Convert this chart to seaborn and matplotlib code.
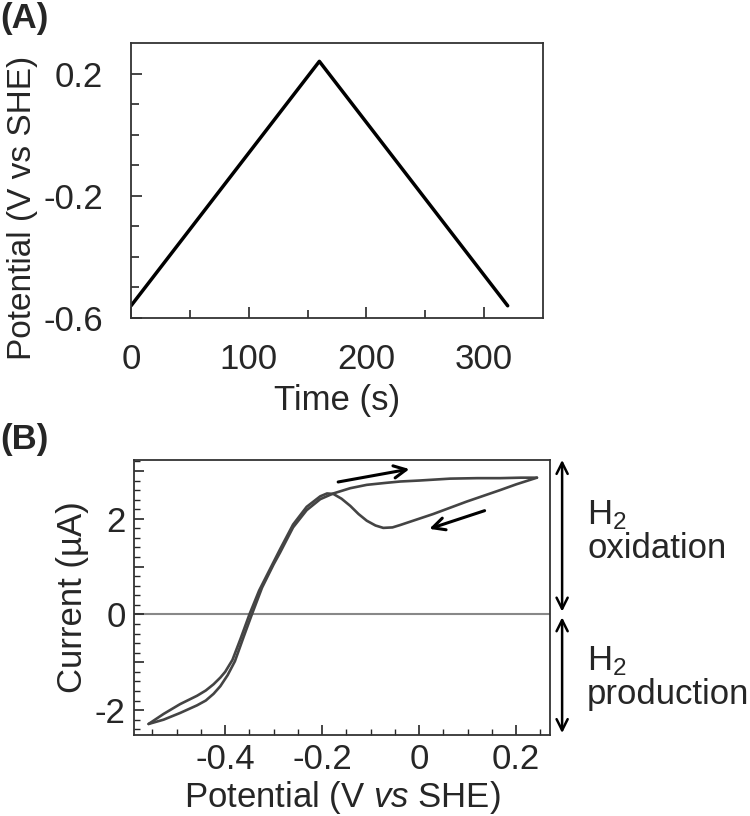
import numpy as np
import matplotlib
matplotlib.use("Agg")
import matplotlib.pyplot as plt
from matplotlib.ticker import MultipleLocator, FixedLocator
import seaborn as sns
from pandas import DataFrame

# panel A: potential waveform
t_s = [0, 160, 320]
e_wave = [-0.56, 0.24, -0.56]

# panel B: cyclic voltammogram, forward (anodic) and reverse scans
e_fwd = [-0.558, -0.527, -0.493, -0.458, -0.44, -0.424, -0.41, -0.395, -0.38,
         -0.362, -0.345, -0.324, -0.30, -0.287, -0.26, -0.232, -0.204, -0.177,
         -0.142, -0.108, -0.07, -0.039, 0.0, 0.064, 0.12, 0.167, 0.21, 0.243]
i_fwd = [-2.29, -2.20, -2.06, -1.90, -1.80, -1.66, -1.50, -1.27, -0.98,
         -0.47, 0.0, 0.56, 1.05, 1.29, 1.82, 2.18, 2.41, 2.53,
         2.64, 2.71, 2.75, 2.78, 2.80, 2.84, 2.85, 2.85, 2.86, 2.86]
e_rev = [0.243, 0.2, 0.167, 0.098, 0.029, -0.039, -0.055, -0.074, -0.09, -0.108,
         -0.125, -0.142, -0.16, -0.177, -0.19, -0.204, -0.232, -0.26, -0.287,
         -0.31, -0.33, -0.35, -0.368, -0.385, -0.40, -0.41, -0.424, -0.44,
         -0.458, -0.493, -0.527, -0.558]
i_rev = [2.86, 2.72, 2.60, 2.36, 2.10, 1.87, 1.82, 1.81, 1.86, 1.96,
         2.10, 2.27, 2.42, 2.52, 2.53, 2.47, 2.25, 1.88, 1.36,
         0.90, 0.50, 0.0, -0.50, -0.95, -1.20, -1.32, -1.46, -1.59,
         -1.70, -1.875, -2.08, -2.29]

sns.set_style("ticks")
plt.rcParams["font.family"] = ["Liberation Sans", "DejaVu Sans"]
plt.rcParams["mathtext.fontset"] = "custom"
plt.rcParams["mathtext.rm"] = "Liberation Sans"
plt.rcParams["mathtext.it"] = "Liberation Sans:italic"

FS = 25
fig = plt.figure(figsize=(7.5, 8.16), dpi=100)

# ---------------- (A) ----------------
axA = fig.add_axes([0.1747, 0.6103, 0.5493, 0.337])
dfA = DataFrame({"t": t_s, "E": e_wave})
sns.lineplot(data=dfA, x="t", y="E", ax=axA, color="black", lw=2.5,
             sort=False, estimator=None)
axA.set_xlim(0, 350)
axA.set_ylim(-0.6, 0.3)
axA.xaxis.set_major_locator(FixedLocator([0, 100, 200, 300]))
axA.xaxis.set_minor_locator(FixedLocator([50, 150, 250]))
axA.yaxis.set_major_locator(FixedLocator([-0.6, -0.2, 0.2]))
axA.yaxis.set_minor_locator(FixedLocator([-0.5, -0.4, -0.3, -0.1, 0.0, 0.1]))
axA.set_yticklabels(["-0.6", "-0.2", "0.2"])
axA.tick_params(axis="x", which="both", direction="in", pad=18, labelsize=FS)
axA.tick_params(axis="y", which="both", direction="in", pad=20, labelsize=FS)
axA.tick_params(which="major", length=8, width=1.2)
axA.tick_params(which="minor", length=6, width=1.2)
axA.set_xlabel("Time (s)", fontsize=FS, labelpad=6)
axA.set_ylabel("Potential (V vs SHE)", fontsize=24)
axA.yaxis.set_label_coords(-0.225, 0.40)
for s in axA.spines.values():
    s.set_color("#333333")
    s.set_linewidth(1.3)

# ---------------- (B) ----------------
axB = fig.add_axes([0.1787, 0.0993, 0.5547, 0.337])
dfB = DataFrame({"E": e_fwd + e_rev, "I": i_fwd + i_rev,
                 "scan": ["fwd"] * len(e_fwd) + ["rev"] * len(e_rev)})
sns.lineplot(data=dfB, x="E", y="I", units="scan", estimator=None, ax=axB,
             color="#444444", lw=1.9, sort=False)
axB.axhline(0, color="#888888", lw=1.5, zorder=0)
axB.set_xlim(-0.588, 0.27)
axB.set_ylim(-2.52, 3.23)
axB.xaxis.set_major_locator(FixedLocator([-0.4, -0.2, 0.0, 0.2]))
axB.xaxis.set_minor_locator(MultipleLocator(0.05))
axB.set_xticklabels(["-0.4", "-0.2", "0", "0.2"])
axB.yaxis.set_major_locator(FixedLocator([-2, -1, 0, 1, 2, 3]))
axB.yaxis.set_minor_locator(MultipleLocator(0.2))
axB.set_yticklabels(["-2", "", "0", "", "2", ""])
axB.tick_params(which="both", direction="in", pad=6, labelsize=FS)
axB.tick_params(which="major", length=7, width=1.2)
axB.tick_params(which="minor", length=4, width=1.0)
axB.set_xlabel(r"Potential (V $\mathit{vs}$ SHE)", fontsize=FS, labelpad=2)
axB.set_ylabel("Current (µA)", fontsize=FS, labelpad=4)
for s in axB.spines.values():
    s.set_color("#333333")
    s.set_linewidth(1.3)

# scan direction arrows
arr = dict(arrowstyle="->", color="black", lw=2.2, mutation_scale=22,
           shrinkA=0, shrinkB=0)
axB.annotate("", xy=(-0.02, 3.04), xytext=(-0.167, 2.77), arrowprops=arr)
axB.annotate("", xy=(0.021, 1.79), xytext=(0.135, 2.17), arrowprops=arr)

# oxidation / production ranges
dbl = dict(arrowstyle="<->", color="black", lw=1.8, mutation_scale=20,
           shrinkA=0, shrinkB=0)
axB.annotate("", xy=(1.029, 3.23), xytext=(1.029, 0.06),
             xycoords=("axes fraction", "data"), textcoords=("axes fraction", "data"),
             arrowprops=dbl, annotation_clip=False)
axB.annotate("", xy=(1.029, -0.06), xytext=(1.029, -2.48),
             xycoords=("axes fraction", "data"), textcoords=("axes fraction", "data"),
             arrowprops=dbl, annotation_clip=False)
axB.text(1.089, 1.73, "H$_2$\noxidation", transform=axB.get_yaxis_transform(),
         fontsize=FS, ha="left", va="center", linespacing=1.0)
axB.text(1.089, -1.33, "H$_2$\nproduction", transform=axB.get_yaxis_transform(),
         fontsize=FS, ha="left", va="center", linespacing=1.0)

fig.text(0.0, 0.998, "(A)", fontsize=FS, fontweight="bold", ha="left", va="top")
fig.text(0.0, 0.461, "(B)", fontsize=FS, fontweight="bold", ha="left", va="center")

fig.savefig("out.png", dpi=100)
